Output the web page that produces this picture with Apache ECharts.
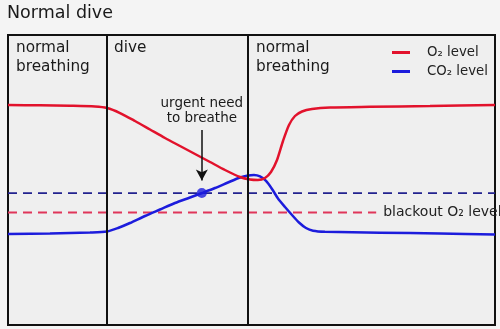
<!DOCTYPE html>
<html>
<head>
<meta charset="utf-8">
<script src="https://cdn.jsdelivr.net/npm/echarts@6/dist/echarts.min.js"></script>
<style>html,body{margin:0;padding:0;background:#f4f4f4;}#c{width:500px;height:329px;}</style>
</head>
<body>
<div id="c"></div>
<script>
// time (0..100) and level (0..100)
const o2Time  = [0, 6.57, 12.73, 17.86, 20.33, 23.0, 26.08, 29.16, 32.24, 35.32, 38.40, 41.48, 44.56, 47.64, 49.69, 51.33, 52.77, 54.00, 55.24, 56.47, 57.70, 58.93, 60.37, 62.42, 66.12, 74.33, 86.65, 100];
const o2Level = [75.86, 75.76, 75.59, 75.34, 74.83, 73.10, 70.34, 67.41, 64.48, 61.72, 58.97, 56.21, 53.45, 51.03, 50.17, 50.0, 50.69, 52.76, 56.90, 63.45, 68.97, 72.07, 73.62, 74.48, 75.0, 75.24, 75.52, 75.86];
const co2Time  = [0, 8.62, 16.84, 20.33, 22.59, 25.05, 28.13, 31.21, 34.29, 37.37, 39.84, 42.51, 45.17, 47.64, 49.28, 50.51, 51.75, 52.98, 54.21, 55.44, 56.88, 58.32, 59.75, 61.19, 62.63, 65.09, 76.39, 88.71, 100];
const co2Level = [31.38, 31.55, 31.90, 32.24, 33.45, 35.17, 37.59, 39.83, 42.07, 43.97, 45.52, 47.24, 49.14, 50.86, 51.55, 51.72, 51.21, 49.66, 46.90, 43.62, 40.69, 37.93, 35.34, 33.45, 32.52, 32.17, 31.83, 31.55, 31.21];
const co2Urgent = 45.5;          // dashed blue level
const o2Blackout = 38.8;         // dashed red level
const blackoutEnd = 75.6;        // where the red dashed line stops
const phaseBounds = [0, 20.3, 49.3, 100];
const phaseNames = ['normal\nbreathing', 'dive', 'normal\nbreathing'];
const urgentPoint = [39.8, 45.5];
const arrowFrom = 67.2, arrowTo = 49.8;

const zip = (a, b) => a.map((v, i) => [v, b[i]]);
const FONT = 'DejaVu Sans';
const RED = '#e2122c', BLUE = '#1c1cdc';

const chart = echarts.init(document.getElementById('c'), null, {renderer: 'canvas'});
chart.setOption({
  backgroundColor: '#f4f4f4',
  animation: false,
  title: {
    text: 'Normal dive', left: 7, top: 4, padding: 0,
    textStyle: {fontFamily: FONT, fontSize: 17.5, fontWeight: 'normal', color: '#1a1a1a'}
  },
  legend: {
    data: ['O₂ level', 'CO₂ level'],
    orient: 'vertical', left: 392, top: 46, padding: 0,
    icon: 'rect', itemWidth: 18, itemHeight: 3, itemGap: 6,
    textStyle: {fontFamily: FONT, fontSize: 13.3, color: '#222', padding: [0, 0, 0, 12]}
  },
  grid: {
    left: 8, right: 5, top: 35, bottom: 4, show: true,
    backgroundColor: '#efefef', borderColor: '#111', borderWidth: 2
  },
  xAxis: {type: 'value', min: 0, max: 100, show: false},
  yAxis: {type: 'value', min: 0, max: 100, show: false},
  graphic: phaseNames.map((t, i) => ({
    type: 'text', left: [16, 114, 256][i], top: 39,
    style: {text: t, font: '15.3px "DejaVu Sans"', fill: '#1a1a1a', lineHeight: 19}
  })),
  series: [
    {
      name: 'blue dashed', type: 'line', data: [[0, co2Urgent], [100, co2Urgent]],
      symbol: 'none', silent: true, z: 2,
      lineStyle: {color: '#22228f', width: 1.8, type: [9, 6]}
    },
    {
      name: 'red dashed', type: 'line', data: [[0, o2Blackout], [blackoutEnd, o2Blackout]],
      symbol: 'none', silent: true, z: 2,
      lineStyle: {color: '#e0365a', width: 1.8, type: [9, 6]},
      endLabel: {show: true, formatter: 'blackout O₂ level', distance: 7,
        fontFamily: FONT, fontSize: 14, color: '#222'}
    },
    {
      name: 'O₂ level', type: 'line', data: zip(o2Time, o2Level),
      symbol: 'none', smooth: 0.25, z: 4, color: RED,
      lineStyle: {color: RED, width: 2.5},
      markLine: {
        silent: true, symbol: 'none', label: {show: false},
        lineStyle: {color: '#111', width: 2, type: 'solid'},
        data: phaseBounds.slice(1, 3).map(v => ({xAxis: v}))
      }
    },
    {
      name: 'CO₂ level', type: 'line', data: zip(co2Time, co2Level),
      symbol: 'none', smooth: 0.25, z: 3, color: BLUE,
      lineStyle: {color: BLUE, width: 2.5},
      markLine: {
        silent: true, symbol: ['none', 'arrow'], symbolSize: [9, 11],
        lineStyle: {color: '#111', width: 1.5, type: 'solid'},
        label: {show: true, position: 'start', distance: 4,
          formatter: 'urgent need\nto breathe',
          fontFamily: FONT, fontSize: 13.5, lineHeight: 15, color: '#1a1a1a'},
        data: [[{coord: [urgentPoint[0], arrowFrom]}, {coord: [urgentPoint[0], arrowTo]}]]
      }
    },
    {
      name: 'urgent', type: 'scatter', data: [urgentPoint], z: 5,
      symbolSize: 10, itemStyle: {color: BLUE}, silent: true
    }
  ]
});
</script>
</body>
</html>
